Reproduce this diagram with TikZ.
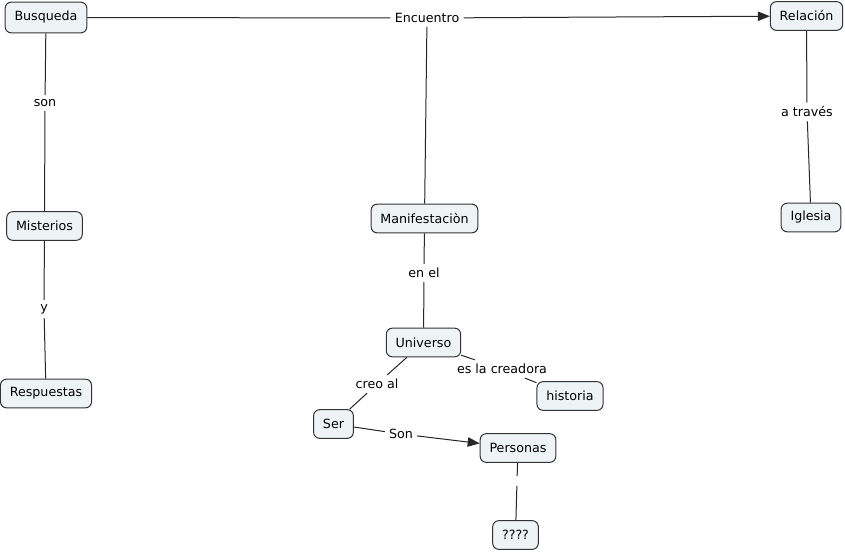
\documentclass[tikz,border=0pt]{standalone}
\usepackage{fontspec}
\setmainfont{DejaVu Sans}
\usetikzlibrary{arrows.meta}
\definecolor{boxfill}{HTML}{EEF3F6}
\definecolor{boxline}{HTML}{333333}
\begin{document}
\begin{tikzpicture}[x=0.75pt,y=-0.75pt,
  concept/.style={draw=boxline,fill=boxfill,rounded corners=4.5pt,font=\fontsize{9.5}{11}\selectfont,inner xsep=7pt,minimum height=21.5pt,line width=0.75pt},
  lbl/.style={font=\fontsize{9.5}{11}\selectfont,inner sep=3pt,fill=white},
  conn/.style={draw=black!85,line width=0.75pt},
  arr/.style={conn,-{Triangle[length=9pt,width=7pt]}}]
\useasboundingbox[fill=white] (0,0) rectangle (845,552);
% concepts
\node[concept,minimum height=23pt] (busq) at (46,17.5) {Busqueda};
\node[concept] (rel) at (806.5,16) {Relación};
\node[concept] (mist) at (44.5,226) {Misterios};
\node[concept] (resp) at (46,393.5) {Respuestas};
\node[concept] (manif) at (424.5,218.5) {Manifestaciòn};
\node[concept] (igl) at (811,217.5) {Iglesia};
\node[concept] (univ) at (423.5,342.5) {Universo};
\node[concept] (hist) at (570,396) {historia};
\node[concept] (ser) at (333.5,424) {Ser};
\node[concept] (pers) at (518,448) {Personas};
\node[concept] (qqq) at (515.5,535) {????};
% linking labels
\node[lbl] (son) at (45,103) {son};
\node[lbl] (y) at (44,309) {y};
\node[lbl] (enc) at (427,18) {Encuentro};
\node[lbl] (atr) at (807,112) {a través};
\node[lbl] (enel) at (424,273) {en el};
\node[lbl] (creo) at (377,384) {creo al};
\node[lbl] (escr) at (502,369) {es la creadora};
\node[lbl] (Son) at (401,434) {Son};
\node[lbl,minimum height=7pt,inner sep=0pt,minimum width=4pt] (gap) at (517,481) {};
% connectors
\draw[conn] (busq) -- (enc);
\draw[arr] (enc) -- (rel);
\draw[conn] (enc) -- (manif);
\draw[conn] (busq) -- (son);
\draw[conn] (son) -- (mist);
\draw[conn] (mist) -- (y);
\draw[conn] (y) -- (resp);
\draw[conn] (rel) -- (atr);
\draw[conn] (atr) -- (igl);
\draw[conn] (manif) -- (enel);
\draw[conn] (enel) -- (univ);
\draw[conn] (univ) -- (creo);
\draw[conn] (creo) -- (ser);
\draw[conn] (univ) -- (escr);
\draw[conn] (escr) -- (hist);
\draw[conn] (ser) -- (Son);
\draw[arr] (Son) -- (pers);
\draw[conn] (pers) -- (gap);
\draw[conn] (gap) -- (qqq);
\end{tikzpicture}
\end{document}
